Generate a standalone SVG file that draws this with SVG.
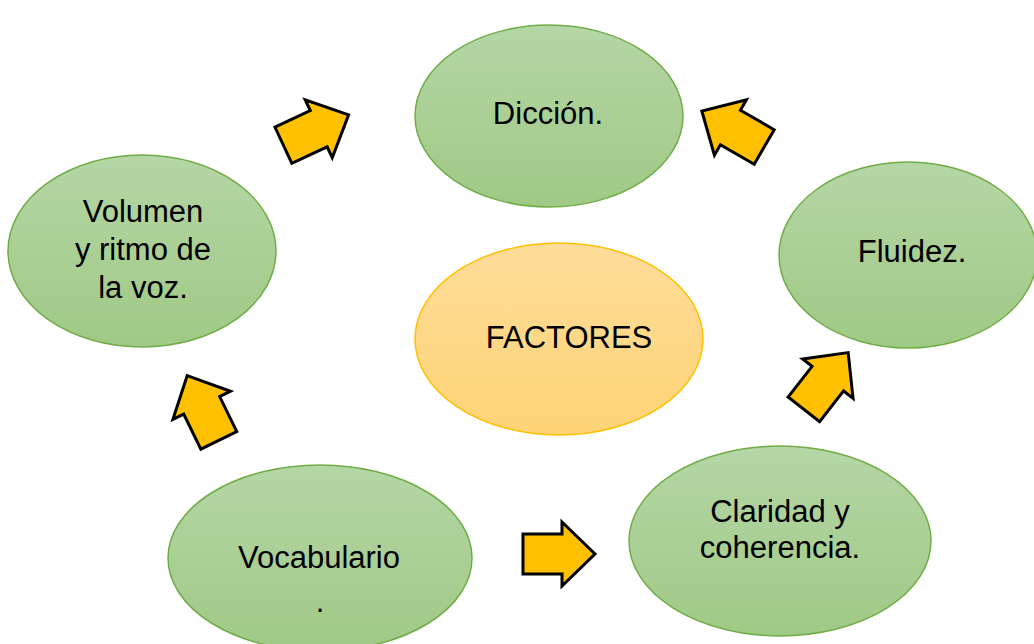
<svg xmlns="http://www.w3.org/2000/svg" width="1034" height="644" viewBox="0 0 1034 644">
<style>
.g{fill:url(#gg);stroke:#70ad47;stroke-width:1.5}
.o{fill:url(#og);stroke:#ffc000;stroke-width:1.5}
.t{font-family:"Liberation Sans",Arial,sans-serif;font-size:31px;fill:#000;text-anchor:middle}
.a{fill:#ffc000;stroke:#000;stroke-width:3;stroke-linejoin:miter}
</style>
<defs>
<linearGradient id="gg" x1="0" y1="0" x2="0" y2="1"><stop offset="0" stop-color="#b5d6a6"/><stop offset="1" stop-color="#a0c985"/></linearGradient>
<linearGradient id="og" x1="0" y1="0" x2="0" y2="1"><stop offset="0" stop-color="#fedc9a"/><stop offset="1" stop-color="#ffd476"/></linearGradient>
<path id="arr" d="M-36,-20 L3,-20 L3,-32 L36,0 L3,32 L3,20 L-36,20 Z"/>
</defs>
<rect width="1034" height="644" fill="#fff"/>
<g id="connectors">
<use href="#arr" class="a" transform="translate(316,130) rotate(-25)"/>
<use href="#arr" class="a" transform="translate(733,129) rotate(-150)"/>
<use href="#arr" class="a" transform="translate(203,408) rotate(-116)"/>
<use href="#arr" class="a" transform="translate(826,381) rotate(-52)"/>
<use href="#arr" class="a" transform="translate(559,554)"/>
</g>
<g id="diccion"><ellipse class="g" cx="549" cy="116" rx="134" ry="91"/><text class="t" x="548" y="124">Dicción.</text></g>
<g id="volumen"><ellipse class="g" cx="142" cy="251" rx="134" ry="96"/><text class="t" x="143" y="222">Volumen</text><text class="t" x="143" y="260">y ritmo de</text><text class="t" x="143" y="298">la voz.</text></g>
<g id="fluidez"><ellipse class="g" cx="908" cy="255" rx="129" ry="93"/><text class="t" x="912" y="262">Fluidez.</text></g>
<g id="factores"><ellipse class="o" cx="559" cy="339" rx="144" ry="96"/><text class="t" x="569" y="348">FACTORES</text></g>
<g id="vocabulario"><ellipse class="g" cx="320" cy="558" rx="152" ry="93"/><text class="t" x="319" y="568">Vocabulario</text><text class="t" x="320" y="612">.</text></g>
<g id="claridad"><ellipse class="g" cx="780" cy="541" rx="151" ry="95"/><text class="t" x="780" y="522">Claridad y</text><text class="t" x="780" y="558">coherencia.</text></g>
</svg>
